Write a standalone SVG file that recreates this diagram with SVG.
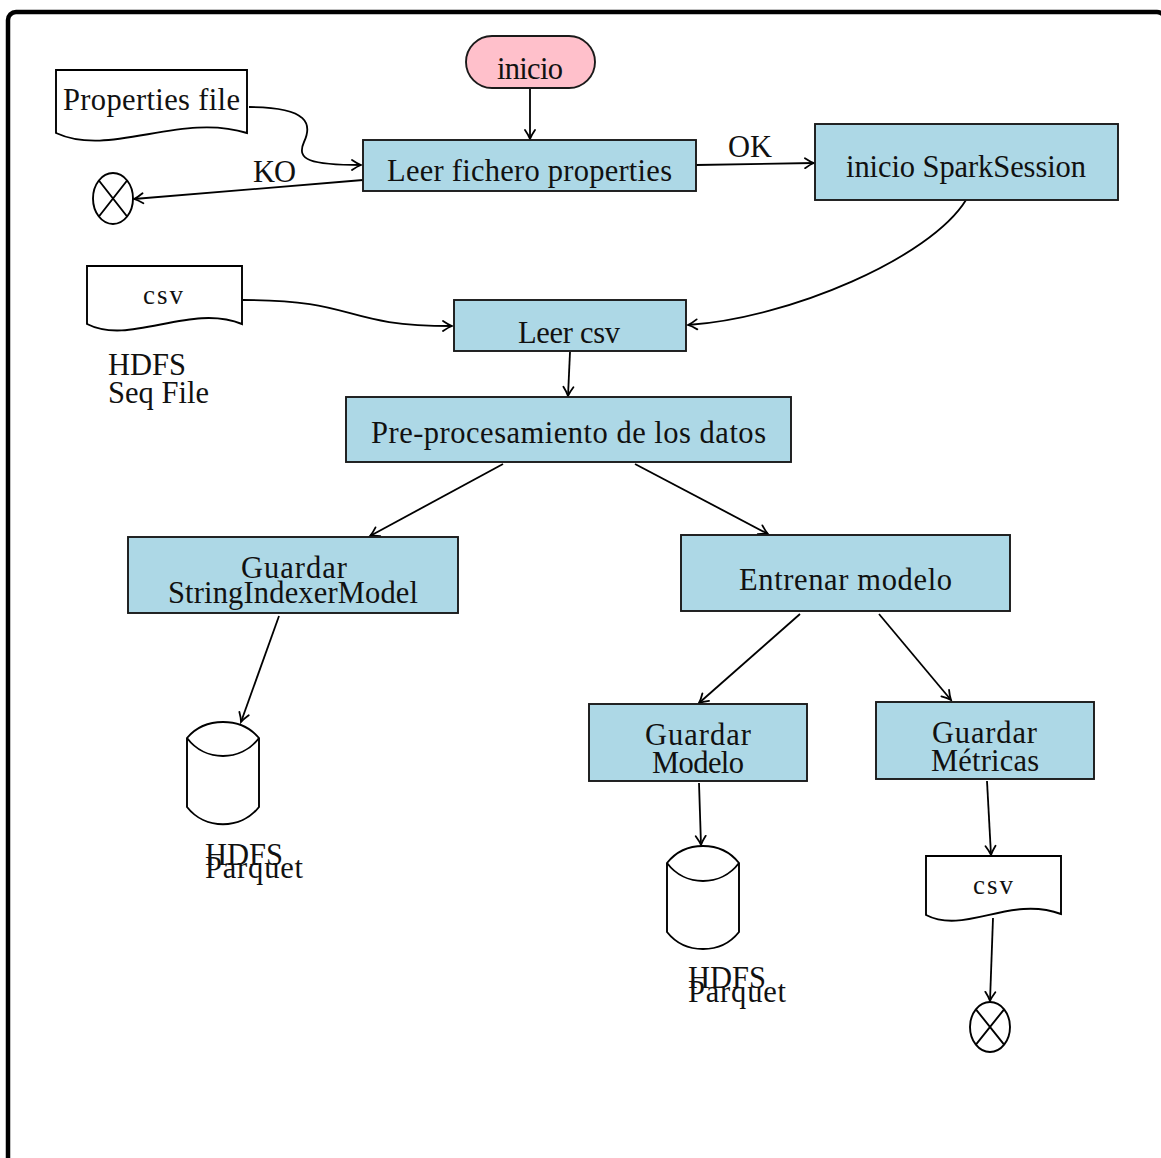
<svg xmlns="http://www.w3.org/2000/svg" width="1161" height="1158" viewBox="0 0 1161 1158">
  <style>
    .proc { fill: #ADD8E6; stroke: #1a1a1a; stroke-width: 1.9; }
    .start { fill: #FFC0CB; stroke: #1a1a1a; stroke-width: 1.9; }
    .shape { fill: #FFFFFF; stroke: #000; stroke-width: 1.9; }
    .edge { fill: none; stroke: #000; stroke-width: 1.8; marker-end: url(#arr); }
    text { font-family: "Liberation Serif", "DejaVu Serif", serif; font-size: 30.5px; fill: #111; }
    .small { font-size: 27px; }
  </style>
  <defs>
    <marker id="arr" viewBox="-11 -7 13 14" refX="0" refY="0" markerWidth="13" markerHeight="14" markerUnits="userSpaceOnUse" orient="auto">
      <path d="M-9,-5 Q-3.5,-1.2 0,0 Q-3.5,1.2 -9,5" fill="none" stroke="#000" stroke-width="1.8" stroke-linecap="round"/>
    </marker>
  </defs>

  <!-- outer frame -->
  <rect x="8" y="12" width="1157" height="1160" rx="8" fill="#FFFFFF" stroke="#000" stroke-width="4.5"/>

  <!-- connectors -->
  <g id="connectors">
    <path class="edge" d="M530,88 V139"/>
    <path class="edge" d="M249,107 C310,107 312,125 304,142 C296,160 310,165 361,165"/>
    <path class="edge" d="M363,180 L134,199"/>
    <path class="edge" d="M696,165 L814,163"/>
    <path class="edge" d="M966,200 C930,258 790,318 688,325"/>
    <path class="edge" d="M243,300 C360,300 340,326 452,326"/>
    <path class="edge" d="M570,352 L568,396"/>
    <path class="edge" d="M503,464 L370,536"/>
    <path class="edge" d="M635,464 L768,534"/>
    <path class="edge" d="M279,616 L241,722"/>
    <path class="edge" d="M800,614 L699,703"/>
    <path class="edge" d="M879,614 L951,700"/>
    <path class="edge" d="M699,783 L701,845"/>
    <path class="edge" d="M987,781 L991,855"/>
    <path class="edge" d="M993,918 L990,1001"/>
    <text x="728" y="157" textLength="44">OK</text>
    <text x="253" y="182" textLength="43">KO</text>
  </g>

  <!-- start -->
  <g id="inicio">
    <rect class="start" x="466" y="36" width="129" height="52" rx="26"/>
    <text x="497" y="79" textLength="66">inicio</text>
  </g>

  <g id="leer-properties">
    <rect class="proc" x="363" y="140" width="333" height="51"/>
    <text x="387" y="181" textLength="285">Leer fichero properties</text>
  </g>

  <g id="spark-session">
    <rect class="proc" x="815" y="124" width="303" height="76"/>
    <text x="846" y="177" textLength="240">inicio SparkSession</text>
  </g>

  <g id="properties-file">
    <path class="shape" d="M56,70 H247 V133 C180,112 110,158 56,133 Z"/>
    <text x="63" y="110" textLength="177">Properties file</text>
  </g>

  <g id="end-ko">
    <ellipse class="shape" cx="113" cy="198.5" rx="20" ry="25.5"/>
    <path d="M98.9,180.5 L127.1,216.5 M127.1,180.5 L98.9,216.5" stroke="#000" stroke-width="1.9"/>
  </g>

  <g id="csv-input">
    <path class="shape" d="M87,266 H242 V324 C190,303 130,346 87,324 Z"/>
    <text class="small" x="143" y="304" textLength="40">csv</text>
    <text x="108" y="375" textLength="78">HDFS</text>
    <text x="108" y="403" textLength="101">Seq File</text>
  </g>

  <g id="leer-csv">
    <rect class="proc" x="454" y="300" width="232" height="51"/>
    <text x="518" y="343" textLength="102">Leer csv</text>
  </g>

  <g id="preprocesamiento">
    <rect class="proc" x="346" y="397" width="445" height="65"/>
    <text x="371" y="443" textLength="395">Pre-procesamiento de los datos</text>
  </g>

  <g id="guardar-indexer">
    <rect class="proc" x="128" y="537" width="330" height="76"/>
    <text x="241" y="578" textLength="106">Guardar</text>
    <text x="168" y="603" textLength="250">StringIndexerModel</text>
  </g>

  <g id="hdfs-parquet-indexer">
    <path class="shape" d="M187,738 C205,716.7 241,716.7 259,738 V807 C241,830 205,830 187,807 Z"/>
    <path class="shape" fill="none" d="M187,738 C205,762 241,762 259,738"/>
    <text x="205" y="865" textLength="78">HDFS</text>
    <text x="205" y="878" textLength="98">Parquet</text>
  </g>

  <g id="entrenar-modelo">
    <rect class="proc" x="681" y="535" width="329" height="76"/>
    <text x="739" y="590" textLength="213">Entrenar modelo</text>
  </g>

  <g id="guardar-modelo">
    <rect class="proc" x="589" y="704" width="218" height="77"/>
    <text x="645" y="745" textLength="106">Guardar</text>
    <text x="652" y="773" textLength="92">Modelo</text>
  </g>

  <g id="hdfs-parquet-modelo">
    <path class="shape" d="M667,863 C685,840.3 721,840.3 739,863 V932 C721,954.7 685,954.7 667,932 Z"/>
    <path class="shape" fill="none" d="M667,863 C685,887 721,887 739,863"/>
    <text x="688" y="988" textLength="78">HDFS</text>
    <text x="688" y="1002" textLength="98">Parquet</text>
  </g>

  <g id="guardar-metricas">
    <rect class="proc" x="876" y="702" width="218" height="77"/>
    <text x="932" y="743" textLength="105">Guardar</text>
    <text x="931" y="771" textLength="108">Métricas</text>
  </g>

  <g id="csv-metricas">
    <path class="shape" d="M926,856 H1061 V914 C1010,895 965,935 926,915 Z"/>
    <text class="small" x="973" y="894" textLength="40">csv</text>
  </g>

  <g id="end-final">
    <ellipse class="shape" cx="990" cy="1027" rx="20" ry="25"/>
    <path d="M975.9,1009.3 L1004.1,1044.7 M1004.1,1009.3 L975.9,1044.7" stroke="#000" stroke-width="1.9"/>
  </g>
</svg>
